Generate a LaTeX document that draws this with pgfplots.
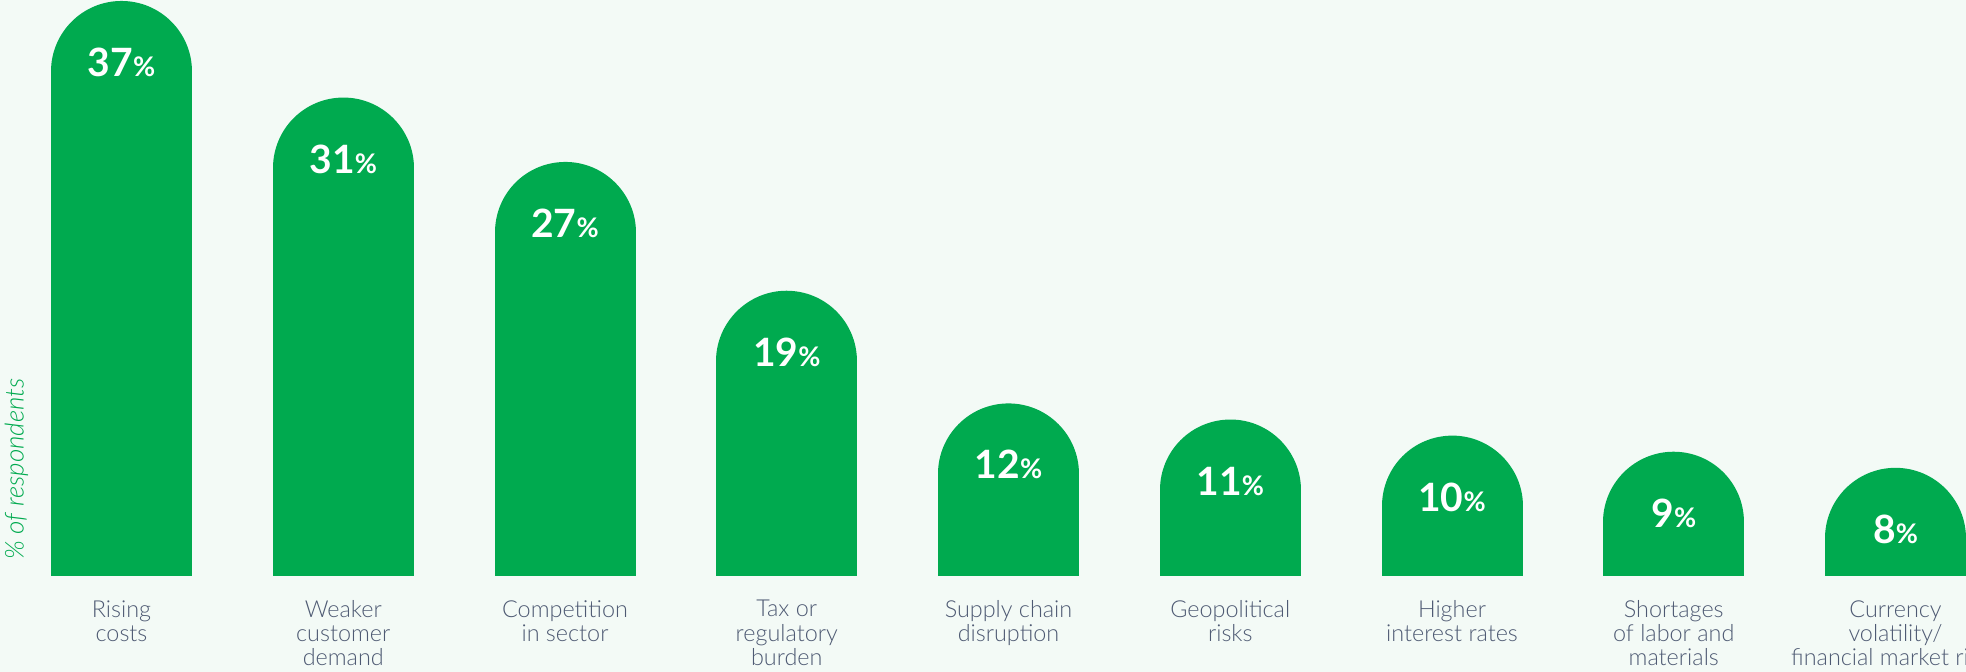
\documentclass[border=0pt]{standalone}
\usepackage{pgfplots}
\pgfplotsset{compat=1.18}
\usepackage{fontspec}
\setmainfont{Lato}[UprightFont={* Light}, ItalicFont={* Light Italic}, BoldFont={* Bold}]
\definecolor{bg}{RGB}{243,250,246}
\definecolor{barg}{RGB}{0,170,79}
\definecolor{lab}{RGB}{78,90,115}

\begin{document}
\begin{tikzpicture}
  % background of the whole picture
  \fill[bg] (0,-48pt) rectangle (983pt,288pt);
  \begin{axis}[
      at={(0,0)}, anchor=south west,
      width=983pt, height=288pt, scale only axis,
      xmin=-0.548, xmax=8.318,
      ymin=5.66, ymax=41.44,
      axis line style={draw=none},
      ytick=\empty,
      xtick=data,
      major tick length=0pt,
      xticklabels={Rising\\costs, Weaker\\customer\\demand, Competition\\in sector,
        Tax or\\regulatory\\burden, Supply chain\\disruption, Geopolitical\\risks,
        Higher\\interest rates, Shortages\\of labor and\\materials,
        Currency\\volatility/\\financial market risks},
      xticklabel style={anchor=north, align=center, inner sep=0pt, yshift=-12pt,
        font=\fontsize{11.7}{12.1}\selectfont, text=lab},
      ylabel={\% of respondents},
      ylabel style={at={(axis description cs:0.0084,0.186)}, anchor=center,
        font=\fontsize{13}{13}\selectfont\itshape, text=barg},
      /pgf/number format/assume math mode=true,
      nodes near coords={\pgfmathprintnumber{\pgfplotspointmeta}{\fontsize{13.5}{13.5}\selectfont\%}},
      every node near coord/.append style={anchor=base, yshift=-2.5pt, text=white,
        font=\fontsize{19.5}{19.5}\selectfont\bfseries},
    ]
    \addplot[ycomb, draw=barg, line width=70.5pt, line cap=round, mark=none]
      coordinates {(0,37) (1,31) (2,27) (3,19) (4,12) (5,11) (6,10) (7,9) (8,8)};
  \end{axis}
  \pgfresetboundingbox
  \useasboundingbox (0,-48pt) rectangle (983pt,288pt);
\end{tikzpicture}
\end{document}
